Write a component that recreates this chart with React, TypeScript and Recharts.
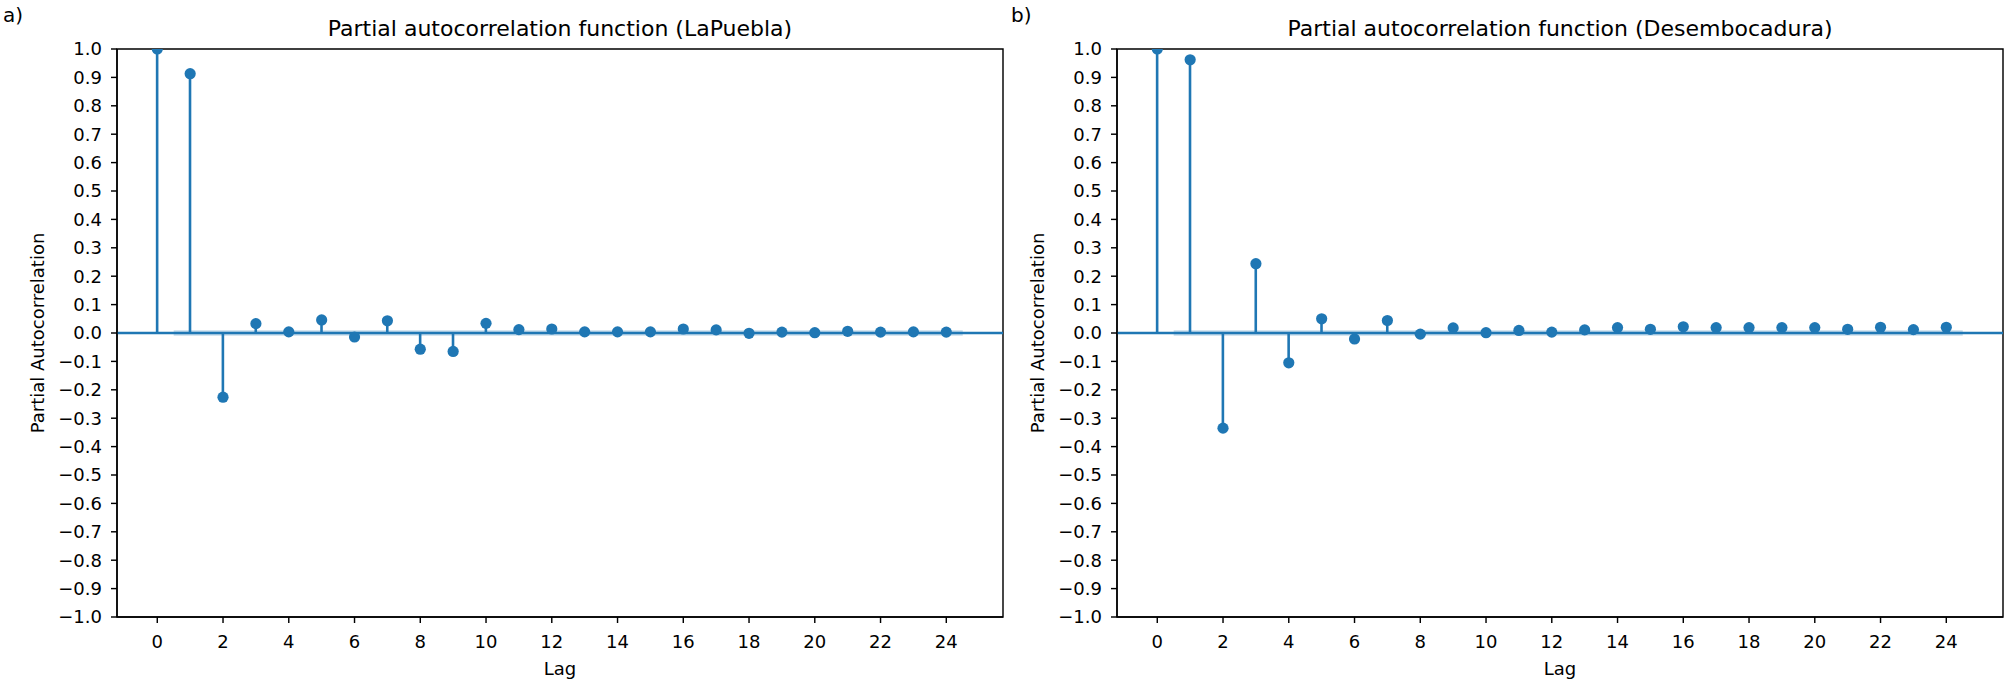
import React from 'react';
import {
  ComposedChart,
  Bar,
  Scatter,
  XAxis,
  YAxis,
  ReferenceLine,
  ReferenceArea,
} from 'recharts';

const lags = [0, 1, 2, 3, 4, 5, 6, 7, 8, 9, 10, 11, 12, 13, 14, 15, 16, 17, 18, 19, 20, 21, 22, 23, 24];
const laPueblaPacf = [
  1.0, 0.913, -0.226, 0.033, 0.004, 0.046, -0.014, 0.043, -0.057, -0.065, 0.034, 0.012, 0.014,
  0.004, 0.004, 0.004, 0.014, 0.011, -0.001, 0.003, 0.001, 0.006, 0.003, 0.004, 0.003,
];
const desembocaduraPacf = [
  1.0, 0.962, -0.335, 0.244, -0.105, 0.05, -0.021, 0.044, -0.004, 0.018, 0.001, 0.009, 0.003,
  0.011, 0.019, 0.013, 0.022, 0.019, 0.019, 0.019, 0.019, 0.013, 0.02, 0.012, 0.02,
];
const xTicks = [0, 2, 4, 6, 8, 10, 12, 14, 16, 18, 20, 22, 24];
const yTicks = [
  -1.0, -0.9, -0.8, -0.7, -0.6, -0.5, -0.4, -0.3, -0.2, -0.1, 0.0, 0.1, 0.2, 0.3, 0.4, 0.5, 0.6,
  0.7, 0.8, 0.9, 1.0,
];
const bandLags = [0.5, 24.5];
const confHalfWidth = 0.0095;
const xDomain = [-1.225, 25.725];
const yDomain = [-1, 1];

const BLUE = '#1f77b4';
const FONT = 'DejaVu Sans';

const fmtY = (v: number) => (v < 0 ? '\u2212' : '') + Math.abs(v).toFixed(1);

const Dot = (props: any) => {
  const { cx, cy } = props;
  if (cx == null || cy == null) return null;
  return <circle cx={cx} cy={cy} r={5.6} fill={BLUE} />;
};

function Panel({ values, left }: { values: number[]; left: number }) {
  const data = lags.map((lag, i) => ({ lag, value: values[i] }));
  const tickStyle = { fontFamily: FONT, fontSize: 18, fill: '#000' };
  return (
    <div style={{ position: 'absolute', left, top: 0 }}>
      <ComposedChart
        width={1010}
        height={682}
        data={data}
        margin={{ top: 49, right: 7, bottom: 0, left: 0 }}
      >
        <XAxis
          dataKey="lag"
          type="number"
          domain={xDomain}
          ticks={xTicks}
          allowDataOverflow
          height={65}
          tickSize={6}
          tickMargin={12}
          tick={tickStyle}
          stroke="#000"
          axisLine={{ stroke: '#000', strokeWidth: 1.44 }}
          tickLine={{ stroke: '#000', strokeWidth: 1.44 }}
          interval={0}
        />
        <YAxis
          type="number"
          domain={yDomain}
          ticks={yTicks}
          allowDataOverflow
          width={117}
          tickSize={6}
          tickMargin={9}
          tick={tickStyle}
          tickFormatter={fmtY}
          stroke="#000"
          axisLine={{ stroke: '#000', strokeWidth: 1.44 }}
          tickLine={{ stroke: '#000', strokeWidth: 1.44 }}
          interval={0}
        />
        <ReferenceArea
          x1={bandLags[0]}
          x2={bandLags[1]}
          y1={-confHalfWidth}
          y2={confHalfWidth}
          fill={BLUE}
          fillOpacity={0.25}
          stroke="none"
        />
        <ReferenceLine y={0} stroke={BLUE} strokeWidth={2.7} />
        <Bar dataKey="value" barSize={2.6} fill={BLUE} isAnimationActive={false} />
        <Scatter dataKey="value" shape={<Dot />} fill={BLUE} isAnimationActive={false} />
        <ReferenceArea
          x1={xDomain[0]}
          x2={xDomain[1]}
          y1={yDomain[0]}
          y2={yDomain[1]}
          fill="none"
          stroke="#000"
          strokeWidth={1.44}
        />
      </ComposedChart>
    </div>
  );
}

export default function App() {
  const textStyle = { fontFamily: FONT, fill: '#000' } as const;
  return (
    <div style={{ position: 'absolute', left: 0, top: 0, width: 2007, height: 682, background: '#fff' }}>
      <Panel values={laPueblaPacf} left={0} />
      <Panel values={desembocaduraPacf} left={1000} />
      <svg
        width={2007}
        height={682}
        style={{ position: 'absolute', left: 0, top: 0, pointerEvents: 'none' }}
      >
        <text x={3} y={22} fontSize={20} {...textStyle}>a)</text>
        <text x={1011} y={22} fontSize={20} {...textStyle}>b)</text>
        <text x={560} y={36} fontSize={22} textAnchor="middle" {...textStyle}>
          Partial autocorrelation function (LaPuebla)
        </text>
        <text x={1560} y={36} fontSize={22} textAnchor="middle" {...textStyle}>
          Partial autocorrelation function (Desembocadura)
        </text>
        <text x={560} y={675} fontSize={18} textAnchor="middle" {...textStyle}>Lag</text>
        <text x={1560} y={675} fontSize={18} textAnchor="middle" {...textStyle}>Lag</text>
        <text
          x={37}
          y={333}
          fontSize={18}
          textAnchor="middle"
          dominantBaseline="central"
          transform="rotate(-90 37 333)"
          {...textStyle}
        >
          Partial Autocorrelation
        </text>
        <text
          x={1037}
          y={333}
          fontSize={18}
          textAnchor="middle"
          dominantBaseline="central"
          transform="rotate(-90 1037 333)"
          {...textStyle}
        >
          Partial Autocorrelation
        </text>
      </svg>
    </div>
  );
}
